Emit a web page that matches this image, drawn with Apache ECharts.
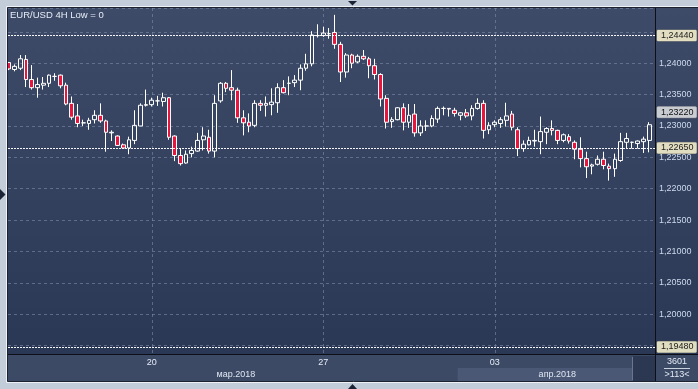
<!DOCTYPE html>
<html><head><meta charset="utf-8">
<script src="https://cdn.jsdelivr.net/npm/echarts@6/dist/echarts.min.js"></script>
<style>html,body{margin:0;padding:0;background:#c3ccd9;}#c{width:698px;height:389px;}</style>
</head><body><div id="c"></div>
<script>
// ---- data (EUR/USD 4H) ----
const opens = [1.2401,1.2390,1.2392,1.2406,1.2374,1.2361,1.2365,1.2368,1.2379,1.2381,
1.2365,1.2336,1.2316,1.2305,1.2304,1.2310,1.2317,1.2308,1.2289,1.2284,
1.2270,1.2265,1.2277,1.2300,1.2333,1.2334,1.2340,1.2339,1.2345,1.2284,
1.2253,1.2241,1.2256,1.2260,1.2278,1.2282,1.2260,1.2340,1.2368,1.2361,
1.2357,1.2313,1.2306,1.2301,1.2336,1.2333,1.2334,1.2337,1.2361,1.2368,
1.2369,1.2373,1.2392,1.2399,1.2444,1.2444,1.2447,1.2449,1.2430,1.2386,
1.2413,1.2402,1.2411,1.2407,1.2396,1.2382,1.2344,1.2307,1.2310,1.2329,
1.2306,1.2319,1.2289,1.2300,1.2300,1.2311,1.2328,1.2328,1.2325,1.2317,
1.2321,1.2316,1.2328,1.2336,1.2294,1.2302,1.2304,1.2309,1.2319,1.2294,
1.2264,1.2270,1.2276,1.2275,1.2290,1.2296,1.2293,1.2277,1.2283,1.2274,
1.2263,1.2248,1.2236,1.2239,1.2247,1.2236,1.2232,1.2245,1.2274,1.2274,
1.2272,1.2275,1.2277];
const closes = [1.2391,1.2395,1.2407,1.2374,1.2361,1.2366,1.2368,1.2381,1.2379,1.2364,
1.2335,1.2314,1.2304,1.2305,1.2309,1.2317,1.2308,1.2290,1.2290,1.2269,
1.2265,1.2278,1.2301,1.2333,1.2334,1.2341,1.2340,1.2345,1.2282,1.2253,
1.2240,1.2255,1.2261,1.2277,1.2284,1.2260,1.2336,1.2368,1.2360,1.2357,
1.2313,1.2305,1.2300,1.2336,1.2333,1.2336,1.2338,1.2361,1.2353,1.2368,
1.2373,1.2392,1.2399,1.2445,1.2444,1.2448,1.2447,1.2430,1.2386,1.2413,
1.2400,1.2411,1.2407,1.2396,1.2382,1.2343,1.2306,1.2310,1.2329,1.2306,
1.2317,1.2289,1.2300,1.2300,1.2312,1.2328,1.2328,1.2327,1.2320,1.2321,
1.2316,1.2328,1.2336,1.2293,1.2301,1.2306,1.2310,1.2316,1.2298,1.2264,
1.2271,1.2277,1.2277,1.2291,1.2296,1.2293,1.2277,1.2286,1.2276,1.2263,
1.2248,1.2235,1.2238,1.2247,1.2237,1.2232,1.2247,1.2275,1.2280,1.2274,
1.2276,1.2279,1.2302];
const lows = [1.2389,1.2387,1.2389,1.2362,1.2358,1.2345,1.2358,1.2362,1.2372,1.2360,
1.2333,1.2310,1.2298,1.2300,1.2294,1.2304,1.2305,1.2259,1.2276,1.2268,
1.2264,1.2255,1.2271,1.2300,1.2331,1.2331,1.2332,1.2331,1.2278,1.2244,
1.2237,1.2240,1.2250,1.2259,1.2261,1.2256,1.2250,1.2337,1.2354,1.2341,
1.2305,1.2285,1.2290,1.2298,1.2324,1.2315,1.2317,1.2321,1.2352,1.2349,
1.2362,1.2357,1.2388,1.2395,1.2441,1.2442,1.2439,1.2423,1.2370,1.2377,
1.2392,1.2400,1.2405,1.2376,1.2374,1.2331,1.2296,1.2297,1.2309,1.2293,
1.2297,1.2283,1.2284,1.2292,1.2298,1.2305,1.2317,1.2315,1.2315,1.2309,
1.2313,1.2309,1.2326,1.2280,1.2287,1.2298,1.2297,1.2299,1.2293,1.2252,
1.2259,1.2269,1.2267,1.2255,1.2271,1.2285,1.2271,1.2274,1.2272,1.2247,
1.2234,1.2217,1.2223,1.2237,1.2231,1.2213,1.2219,1.2243,1.2264,1.2264,
1.2264,1.2257,1.2258];
const highs = [1.2402,1.2398,1.2413,1.2413,1.2397,1.2377,1.2378,1.2382,1.2384,1.2382,
1.2369,1.2347,1.2335,1.2310,1.2313,1.2325,1.2336,1.2310,1.2293,1.2285,
1.2272,1.2283,1.2325,1.2336,1.2358,1.2345,1.2348,1.2353,1.2346,1.2285,
1.2264,1.2261,1.2267,1.2289,1.2298,1.2294,1.2349,1.2370,1.2370,1.2389,
1.2361,1.2325,1.2320,1.2341,1.2341,1.2347,1.2360,1.2368,1.2373,1.2379,
1.2381,1.2398,1.2415,1.2451,1.2462,1.2458,1.2456,1.2477,1.2434,1.2416,
1.2415,1.2414,1.2421,1.2410,1.2407,1.2384,1.2349,1.2314,1.2330,1.2336,
1.2335,1.2335,1.2309,1.2309,1.2317,1.2331,1.2331,1.2328,1.2329,1.2322,
1.2327,1.2333,1.2344,1.2341,1.2306,1.2309,1.2314,1.2337,1.2324,1.2298,
1.2277,1.2283,1.2294,1.2315,1.2298,1.2309,1.2294,1.2288,1.2287,1.2277,
1.2282,1.2259,1.2240,1.2253,1.2259,1.2240,1.2256,1.2289,1.2289,1.2275,
1.2277,1.2283,1.2306];
const dayTickIndex = [25, 55, 85];
const dayTickLabels = ['20', '27', '03'];
const monthLabels = ['мар.2018', 'апр.2018'];
const monthStartIndex = [0, 79];
const yTickValues = [1.200, 1.205, 1.210, 1.215, 1.220, 1.225, 1.230, 1.235, 1.240];
const levelLines = [1.2444, 1.2265, 1.1948];
const priceTags = [1.2322];
const titleText = 'EUR/USD 4H Low = 0';
const barsInfo = ['3601', '>113<'];

// ---- chart ----
const FONT = 'Liberation Sans, Arial, sans-serif';
const fmt = v => Number(v).toFixed(5).replace('.', ',');
const candles = opens.map((o, i) => [i, o, closes[i], lows[i], highs[i]]);
const chart = echarts.init(document.getElementById('c'));

const markData = levelLines.map(v => ({
  yAxis: v,
  lineStyle: { color: '#ffffff', width: 1, type: [2, 1], opacity: 0.95 },
  label: { backgroundColor: '#ebe6c6', borderColor: '#8a8a7a', borderWidth: 0.5 }
})).concat(priceTags.map(v => ({
  yAxis: v,
  lineStyle: { color: 'rgba(0,0,0,0)', width: 0 },
  label: { backgroundColor: '#c9ccd1', borderColor: '#8a8c90', borderWidth: 0.5 }
})));

chart.setOption({
  backgroundColor: '#c3ccd9',
  animation: false,
  title: {
    text: titleText, left: 10, top: 10, padding: 0,
    textStyle: { color: '#e6ecf6', fontSize: 9.5, fontWeight: 'normal', fontFamily: FONT }
  },
  grid: { left: 8, top: 8, right: 43, bottom: 35, containLabel: false },
  xAxis: {
    type: 'value', min: -0.15, max: 113.02,
    axisLine: { show: false },
    axisTick: { show: false, customValues: dayTickIndex },
    axisLabel: {
      customValues: dayTickIndex,
      formatter: v => { const k = dayTickIndex.indexOf(Math.round(v)); return k >= 0 ? dayTickLabels[k] : ''; },
      color: '#e6ecf6', fontSize: 9, fontFamily: FONT, margin: 4
    },
    splitLine: { show: true, lineStyle: { color: 'rgba(125,140,170,0.6)', type: [3, 3], width: 1 } }
  },
  yAxis: {
    type: 'value', position: 'right',
    min: 1.193676, max: 1.248793, splitNumber: 11, minInterval: 0.005, maxInterval: 0.005,
    axisLine: { show: false }, axisTick: { show: false },
    axisLabel: {
      margin: 4, showMinLabel: false, showMaxLabel: false,
      color: '#cdd9ec', fontSize: 9, fontFamily: FONT,
      formatter: v => yTickValues.some(t => Math.abs(t - v) < 1e-7) ? fmt(v) : ''
    },
    splitLine: { show: true, lineStyle: { color: 'rgba(125,140,170,0.6)', type: [3, 3], width: 1 } }
  },
  series: [{
    type: 'candlestick',
    data: candles,
    encode: { x: 0, y: [1, 2, 3, 4] },
    barWidth: 4.2,
    clip: false,
    itemStyle: { color: 'rgba(0,0,0,0)', color0: '#e8163e', borderColor: '#ffffff', borderColor0: '#ffffff', borderWidth: 1 },
    markLine: {
      silent: true, symbol: ['none', 'none'], animation: false, precision: 5,
      label: {
        show: true, position: 'end', distance: 2,
        formatter: p => fmt(p.value),
        color: '#111111', fontSize: 9, fontFamily: FONT,
        padding: [1, 3, 1, 4], borderRadius: 1
      },
      data: markData
    }
  }]
});

// ---- frame decorations, placed from the axis scale ----
const px = v => chart.convertToPixel({ xAxisIndex: 0 }, v);
const aprStart = px(monthStartIndex[1] - 0.5);
const L = 8, T = 8, R = 655, B = 354, BB = 381, W = 698;
const grad = new echarts.graphic.LinearGradient(0, 0, 0, 1, [
  { offset: 0, color: '#3e4b68' }, { offset: 1, color: '#2b3855' }]);
const tri = (pts, z) => ({ type: 'polygon', shape: { points: pts }, style: { fill: '#1b2436' }, z: z || 5 });
chart.setOption({
  graphic: [
    { type: 'rect', shape: { x: L, y: T, width: W - L, height: B - T }, style: { fill: grad }, z: -10, silent: true },
    { type: 'rect', shape: { x: L, y: B, width: W - L, height: BB - B }, style: { fill: '#3d4a66' }, z: -10, silent: true },
    { type: 'rect', shape: { x: aprStart, y: 368, width: 633 - aprStart, height: BB - 368 }, style: { fill: '#4a5875' }, z: -9, silent: true },
    { type: 'rect', shape: { x: 633, y: 356, width: R - 633, height: BB - 356 }, style: { fill: '#2c3852' }, z: -9, silent: true },
    { type: 'line', shape: { x1: 632.5, y1: 357, x2: 632.5, y2: 380 }, style: { stroke: '#6a7690', lineWidth: 1 }, z: -8 },
    { type: 'line', shape: { x1: L, y1: B + 0.5, x2: W, y2: B + 0.5 }, style: { stroke: '#0c0f16', lineWidth: 1 }, z: 20 },
    { type: 'line', shape: { x1: R + 0.5, y1: T, x2: R + 0.5, y2: BB }, style: { stroke: '#0c0f16', lineWidth: 1 }, z: 20 },
    { type: 'rect', shape: { x: 6.5, y: 6.5, width: W, height: BB - 5 }, style: { fill: null, stroke: '#eef2f6', lineWidth: 1 }, z: 19 },
    { type: 'rect', shape: { x: 7.5, y: 7.5, width: W, height: BB - 7 }, style: { fill: null, stroke: '#1c2230', lineWidth: 1 }, z: 19 },
    { type: 'text', style: { text: monthLabels[0], x: (L + aprStart) / 2 + 3, y: 374.5, align: 'center', verticalAlign: 'middle', fill: '#dfe6f2', font: '9px ' + FONT }, z: 21 },
    { type: 'text', style: { text: monthLabels[1], x: (aprStart + R) / 2 + 1, y: 374.5, align: 'center', verticalAlign: 'middle', fill: '#dfe6f2', font: '9px ' + FONT }, z: 21 },
    { type: 'text', style: { text: barsInfo[0], x: 677, y: 362, align: 'center', verticalAlign: 'middle', fill: '#e2e9f5', font: '9px ' + FONT }, z: 21 },
    { type: 'line', shape: { x1: 664, y1: 368.5, x2: 690, y2: 368.5 }, style: { stroke: '#c8d0de', lineWidth: 1 }, z: 21 },
    { type: 'text', style: { text: barsInfo[1], x: 677, y: 374.5, align: 'center', verticalAlign: 'middle', fill: '#e2e9f5', font: '9px ' + FONT }, z: 21 },
    tri([[348, 1], [357, 1], [352.5, 5.5]]),
    tri([[348, 389], [357, 389], [352.5, 384]]),
    tri([[0, 189], [0, 200], [5.5, 194.5]])
  ]
});
</script></body></html>
